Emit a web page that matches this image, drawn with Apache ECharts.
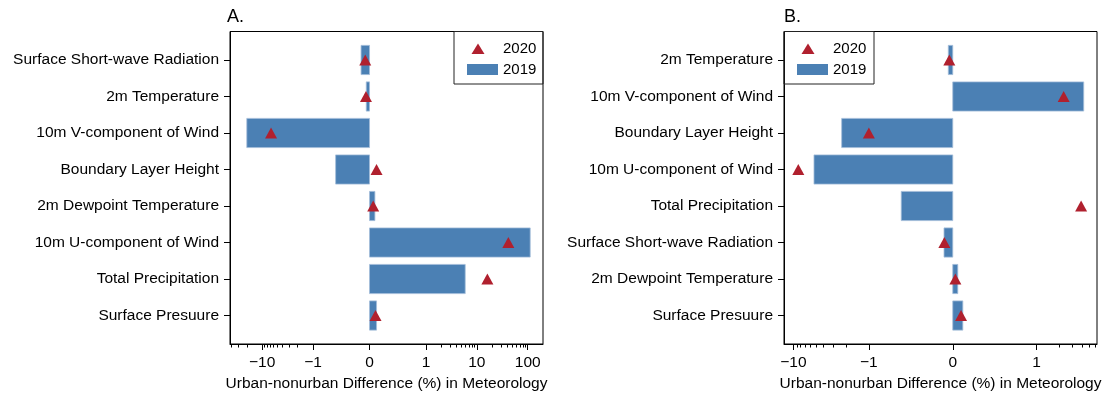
<!DOCTYPE html>
<html>
<head>
<meta charset="utf-8">
<script src="https://cdn.jsdelivr.net/npm/echarts@6/dist/echarts.min.js"></script>
<style>
  html, body { margin: 0; padding: 0; background: #fff; }
  #chart { width: 1112px; height: 399px; }
</style>
</head>
<body>
<div id="chart"></div>
<script>
// Panel A: variables and their urban-nonurban differences (%)
const categoriesA = [
  'Surface Short-wave Radiation', '2m Temperature', '10m V-component of Wind',
  'Boundary Layer Height', '2m Dewpoint Temperature', '10m U-component of Wind',
  'Total Precipitation', 'Surface Presuure'
];
const values2019A = [-0.15, -0.058, -20.1, -0.6, 0.095, 112, 5.9, 0.124];
const values2020A = [-0.076, -0.063, -6.7, 0.124, 0.065, 41.6, 16.1, 0.106];

// Panel B
const categoriesB = [
  '2m Temperature', '10m V-component of Wind', 'Boundary Layer Height',
  '10m U-component of Wind', 'Total Precipitation', 'Surface Short-wave Radiation',
  '2m Dewpoint Temperature', 'Surface Presuure'
];
const values2019B = [-0.053, 4.2, -2.29, -5.33, -0.614, -0.104, 0.06, 0.12];
const values2020B = [-0.041, 2.28, -1.0, -8.6, 3.88, -0.1, 0.031, 0.099];

// Axis limits and ticks (in data units)
const xLimA = [-43, 200];
const xLimB = [-13.3, 6.3];
const majorTicksA = [-10, -1, 0, 1, 10, 100];
const majorTicksB = [-10, -1, 0, 1];
const minorTicksA = [-40, -30, -20, -9, -8, -7, -6, -5, -4, -3, -2,
  2, 3, 4, 5, 6, 7, 8, 9, 20, 30, 40, 50, 60, 70, 80, 90];
const minorTicksB = [-9, -8, -7, -6, -5, -4, -3, -2, 2, 3, 4, 5, 6];

// Symmetric log scale, linear between -1 and 1 (base 10, linscale 1)
const LINSCALE = 1 / (1 - 1 / 10);
function symlog(v) {
  const a = Math.abs(v);
  return a <= 1 ? v * LINSCALE : Math.sign(v) * (LINSCALE + Math.log10(a));
}
function tickLabel(ticks) {
  return function (t) {
    for (const v of ticks) {
      if (Math.abs(symlog(v) - t) < 1e-6) return v < 0 ? '\u2212' + Math.abs(v) : String(v);
    }
    return '';
  };
}

const FONT = 'Liberation Sans, Arial, Helvetica, sans-serif';
const FS = 15.5;
const BAR = '#4b80b4';
const TRI = '#b0202e';
const catIdx = [0, 1, 2, 3, 4, 5, 6, 7];

function barItem(params, api) {
  const x = api.value(0), y = api.value(1);
  const p0 = api.coord([0, y]);
  const p1 = api.coord([x, y]);
  const h = api.size([0, 1])[1] * 0.8;
  return {
    type: 'rect',
    shape: { x: Math.min(p0[0], p1[0]), y: p0[1] - h / 2, width: Math.abs(p1[0] - p0[0]), height: h },
    style: { fill: BAR, stroke: '#a3bdd9', lineWidth: 0.8 }
  };
}

function xAxes(gridIndex, lim, major, minor) {
  const inRange = minor.filter(v => v >= lim[0] && v <= lim[1]).map(symlog);
  const base = {
    type: 'value', gridIndex, position: 'bottom',
    min: symlog(lim[0]), max: symlog(lim[1]),
    splitLine: { show: false }
  };
  return [
    Object.assign({}, base, {
      axisLine: { show: true, onZero: false, lineStyle: { color: '#000', width: 1 } },
      axisTick: { show: true, length: 6, customValues: major.map(symlog), lineStyle: { color: '#000' } },
      axisLabel: { show: true, customValues: major.map(symlog), formatter: tickLabel(major),
        margin: 11, color: '#000', fontSize: FS, fontFamily: FONT },
      name: 'Urban-nonurban Difference (%) in Meteorology',
      nameLocation: 'middle', nameGap: 32,
      nameTextStyle: { color: '#000', fontSize: FS, fontFamily: FONT }
    }),
    Object.assign({}, base, {
      axisLine: { show: false, onZero: false },
      axisTick: { show: true, length: 3.5, customValues: inRange, lineStyle: { color: '#000' } },
      axisLabel: { show: false }
    })
  ];
}

function yAxis(gridIndex, cats) {
  return {
    type: 'value', gridIndex, inverse: true, min: -0.78, max: 7.78,
    splitLine: { show: false },
    axisLine: { show: true, onZero: false, lineStyle: { color: '#000', width: 1 } },
    axisTick: { show: true, length: 6, customValues: catIdx, lineStyle: { color: '#000' } },
    axisLabel: { show: true, customValues: catIdx, formatter: v => cats[v] || '',
      margin: 11, color: '#000', fontSize: FS, fontFamily: FONT }
  };
}

function series(xi, yi, v2019, v2020) {
  return [
    {
      name: '2019', type: 'custom', xAxisIndex: xi, yAxisIndex: yi,
      renderItem: barItem, itemStyle: { color: BAR },
      encode: { x: 0, y: 1 },
      data: v2019.map((v, i) => [symlog(v), i]), z: 2
    },
    {
      name: '2020', type: 'scatter', xAxisIndex: xi, yAxisIndex: yi,
      symbol: 'triangle', symbolSize: [12, 11],
      itemStyle: { color: TRI, opacity: 1 },
      data: v2020.map((v, i) => [symlog(v), i]), z: 3
    }
  ];
}

// Legend triangle placed inside a 31x11 box, same footprint as the bar swatch
const TRI_ICON = 'path://M0,0M31,11M4.5,11L11,0.5L17.5,11Z';

function legend(left) {
  return {
    orient: 'vertical', left, top: 36,
    itemWidth: 31, itemHeight: 11, itemGap: 6,
    data: [{ name: '2020', icon: TRI_ICON }, { name: '2019', icon: 'rect' }],
    textStyle: { color: '#000', fontSize: 15, fontFamily: FONT },
    selectedMode: false
  };
}

const chart = echarts.init(document.getElementById('chart'), null, { renderer: 'canvas' });
chart.setOption({
  animation: false,
  backgroundColor: '#fff',
  title: [
    { text: 'A.', left: 227, top: 8, padding: 0, textStyle: { fontSize: 18, fontWeight: 'normal', color: '#000', fontFamily: FONT } },
    { text: 'B.', left: 784, top: 8, padding: 0, textStyle: { fontSize: 18, fontWeight: 'normal', color: '#000', fontFamily: FONT } }
  ],
  grid: [
    { left: 230, right: 569, top: 31.5, bottom: 55, show: true, borderColor: '#000', borderWidth: 1, containLabel: false, outerBoundsMode: 'none' },
    { left: 784, right: 15, top: 31.5, bottom: 55, show: true, borderColor: '#000', borderWidth: 1, containLabel: false, outerBoundsMode: 'none' }
  ],
  xAxis: [].concat(xAxes(0, xLimA, majorTicksA, minorTicksA), xAxes(1, xLimB, majorTicksB, minorTicksB)),
  yAxis: [yAxis(0, categoriesA), yAxis(1, categoriesB)],
  legend: [legend(462), legend(792)],
  graphic: [
    { type: 'rect', shape: { x: 454, y: 31.5, width: 89, height: 52.5 }, style: { fill: 'none', stroke: '#222', lineWidth: 1 }, z: 10 },
    { type: 'rect', shape: { x: 784, y: 31.5, width: 90, height: 52.5 }, style: { fill: 'none', stroke: '#222', lineWidth: 1 }, z: 10 }
  ],
  series: [].concat(series(0, 0, values2019A, values2020A), series(2, 1, values2019B, values2020B))
});
</script>
</body>
</html>
